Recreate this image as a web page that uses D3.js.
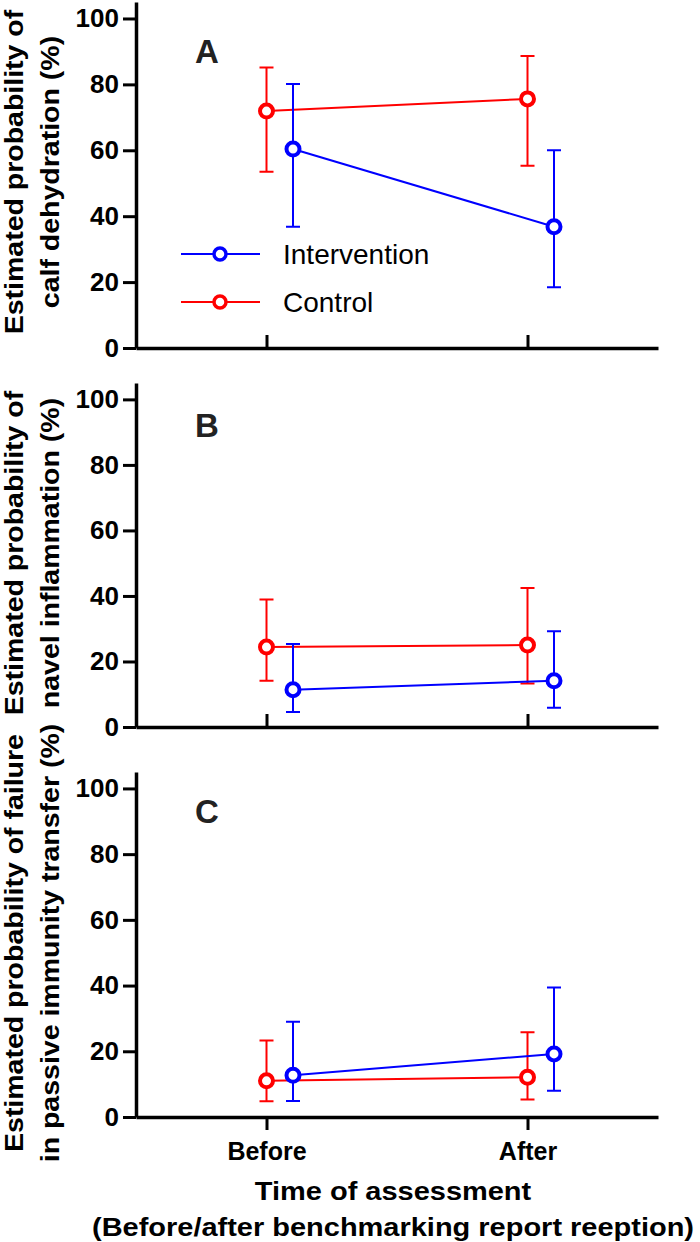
<!DOCTYPE html>
<html>
<head>
<meta charset="utf-8">
<script src="https://cdn.jsdelivr.net/npm/d3@7"></script>
<style>
body { margin: 0; background: #fff; }
text { font-family: "Liberation Sans", Arial, sans-serif; }
</style>
</head>
<body>
<div id="chart"></div>
<script>
var times = ["Before", "After"];
var groups = ["Intervention", "Control"];
var yTicks = [0, 20, 40, 60, 80, 100];

// A: calf dehydration
var dehydInt = [60.4, 36.8];
var dehydIntLow = [36.8, 18.4];
var dehydIntHigh = [80.1, 60.0];
var dehydCtl = [71.9, 75.6];
var dehydCtlLow = [53.5, 55.3];
var dehydCtlHigh = [85.1, 88.6];

// B: navel inflammation
var navelInt = [11.4, 14.1];
var navelIntLow = [4.6, 5.9];
var navelIntHigh = [25.3, 29.2];
var navelCtl = [24.4, 25.0];
var navelCtlLow = [14.1, 13.3];
var navelCtlHigh = [38.9, 42.4];

// C: failure of passive immunity transfer
var fptInt = [12.7, 19.2];
var fptIntLow = [4.9, 8.0];
var fptIntHigh = [29.0, 39.4];
var fptCtl = [11.0, 12.1];
var fptCtlLow = [4.8, 5.3];
var fptCtlHigh = [23.3, 25.8];

var panelLetters = ["A", "B", "C"];
var yTitles = [
	["Estimated probability of", "calf dehydration (%)"],
	["Estimated probability of", "navel inflammation (%)"],
	["Estimated probability of failure", "in passive immunity transfer (%)"]
];
var xTitle = ["Time of assessment", "(Before/after benchmarking report reeption)"];

var colors = { Intervention: "#0000ff", Control: "#ff0000" };

var panelData = [
	{ Intervention: [dehydInt, dehydIntLow, dehydIntHigh], Control: [dehydCtl, dehydCtlLow, dehydCtlHigh] },
	{ Intervention: [navelInt, navelIntLow, navelIntHigh], Control: [navelCtl, navelCtlLow, navelCtlHigh] },
	{ Intervention: [fptInt, fptIntLow, fptIntHigh], Control: [fptCtl, fptCtlLow, fptCtlHigh] }
];

// layout of each panel (pixels)
var layout = [
	{ top: 2, bottom: 348, letterY: 63, titleY: 172 },
	{ top: 383, bottom: 727, letterY: 437, titleY: 553 },
	{ top: 772, bottom: 1117, letterY: 823, titleY: 943 }
];

var svg = d3.select("#chart")
  .append("svg")
    .attr("width", 700)
    .attr("height", 1242);

var axisX = 136;
var x = d3.scalePoint()
    .domain(times)
    .range([axisX, 658])
    .padding(0.5);
var offset = { Intervention: 26.5, Control: 0 };

layout.forEach(function(p, i) {
	var y = d3.scaleLinear()
	    .domain([0, 105])
	    .range([p.bottom, p.top]);
	var g = svg.append("g").attr("class", "panel" + i);

	//y axis
	var yAxis = g.append("g")
	    .attr("transform", "translate(" + axisX + ",0)")
	    .call(d3.axisLeft(y).tickValues(yTicks).tickSize(13).tickSizeOuter(0).tickPadding(4));
	yAxis.select(".domain").style("stroke-width", "3.5px");
	yAxis.selectAll(".tick line").style("stroke-width", "3px");
	yAxis.selectAll(".tick text")
	    .style("font-size", "26px")
	    .style("font-weight", "bold")
	    .style("fill", "#000");

	//x axis
	var xAxis = g.append("g")
	    .attr("transform", "translate(0," + p.bottom + ")")
	    .call(d3.axisBottom(x).tickSize(i == 2 ? 13 : -13).tickSizeOuter(0).tickPadding(12)
	      .tickFormat(function(d) { return i == 2 ? d : ""; }));
	xAxis.select(".domain").style("stroke-width", "3.5px");
	xAxis.selectAll(".tick line").style("stroke-width", "3px");
	xAxis.selectAll(".tick text")
	    .style("font-size", "25px")
	    .style("font-weight", "bold")
	    .style("fill", "#000");

	//panel letter
	g.append("text")
	    .attr("x", 207)
	    .attr("y", p.letterY)
	    .attr("text-anchor", "middle")
	    .style("font-size", "33px")
	    .style("font-weight", "bold")
	    .style("fill", "#222")
	    .text(panelLetters[i]);

	//y title (a bit stretched along the text, like the original font)
	g.selectAll(".ytitle")
	    .data(yTitles[i])
	  .enter().append("text")
	    .attr("class", "ytitle")
	    .attr("transform", function(d, j) {
			return "translate(" + (23 + j * 36) + "," + p.titleY + ") rotate(-90) scale(1.14,1)";
	    })
	    .attr("text-anchor", "middle")
	    .style("font-size", "25px")
	    .style("font-weight", "bold")
	    .style("fill", "#000")
	    .text(function(d) { return d; });

	//series
	groups.slice().reverse().forEach(function(s) {
		var vals = panelData[i][s];
		var pts = times.map(function(t, k) {
			return { t: t, v: vals[0][k], lo: vals[1][k], hi: vals[2][k] };
		});
		var sg = g.append("g").style("stroke", colors[s]).style("fill", "none");

		sg.selectAll(".err")
		    .data(pts)
		  .enter().append("path")
		    .attr("class", "err")
		    .style("stroke-width", "2px")
		    .attr("d", function(d) {
				var cx = x(d.t) + offset[s];
				return "M" + cx + "," + y(d.lo) + "V" + y(d.hi) +
				  "M" + (cx - 7) + "," + y(d.hi) + "H" + (cx + 7) +
				  "M" + (cx - 7) + "," + y(d.lo) + "H" + (cx + 7);
		    });

		sg.append("path")
		    .datum(pts)
		    .style("stroke-width", "2px")
		    .attr("d", d3.line()
		      .x(function(d) { return x(d.t) + offset[s]; })
		      .y(function(d) { return y(d.v); }));

		sg.selectAll("circle")
		    .data(pts)
		  .enter().append("circle")
		    .attr("cx", function(d) { return x(d.t) + offset[s]; })
		    .attr("cy", function(d) { return y(d.v); })
		    .attr("r", 6.5)
		    .style("fill", "#fff")
		    .style("stroke-width", "4px");
	});

	//legend only in A
	if(i == 0) {
		var leg = g.selectAll(".legend")
		    .data(groups)
		  .enter().append("g")
		    .attr("class", "legend")
		    .attr("transform", function(d, j) {
				return "translate(181," + (254 + j * 48) + ")";
		    });
		leg.append("line")
		    .attr("x1", 0)
		    .attr("x2", 79)
		    .style("stroke", function(d) { return colors[d]; })
		    .style("stroke-width", "2px");
		leg.append("circle")
		    .attr("cx", 39)
		    .attr("r", 6)
		    .style("fill", "#fff")
		    .style("stroke", function(d) { return colors[d]; })
		    .style("stroke-width", "3.5px");
		leg.append("text")
		    .attr("x", 102)
		    .attr("y", 10)
		    .style("font-size", "28px")
		    .style("fill", "#000")
		    .text(function(d) { return d; });
	}
});

//x title
svg.selectAll(".xtitle")
    .data(xTitle)
  .enter().append("text")
    .attr("class", "xtitle")
    .attr("transform", function(d, j) {
		return "translate(393," + (1200 + j * 36) + ") scale(1.115,1)";
    })
    .attr("text-anchor", "middle")
    .style("font-size", "26px")
    .style("font-weight", "bold")
    .style("fill", "#000")
    .text(function(d) { return d; });
</script>
</body>
</html>
